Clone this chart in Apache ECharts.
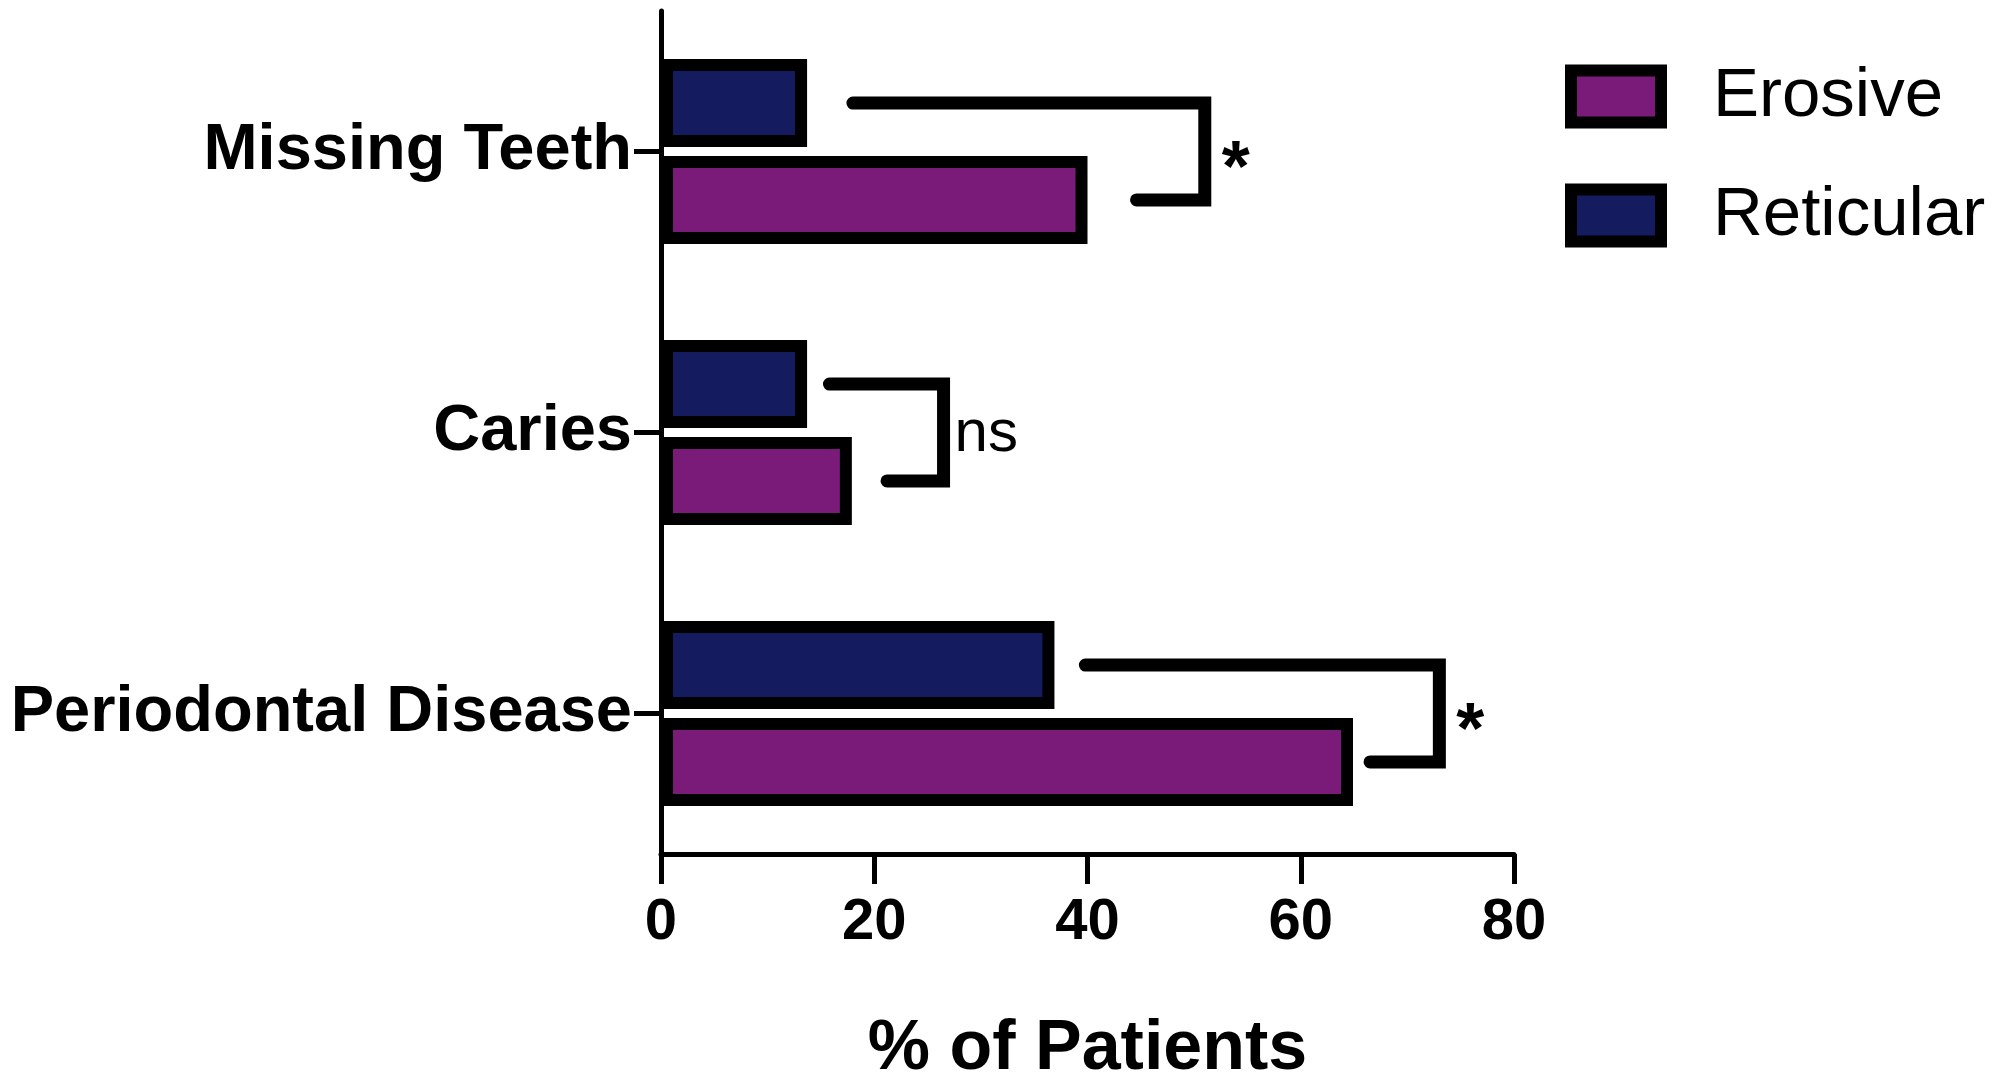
<!DOCTYPE html>
<html>
<head>
<meta charset="utf-8">
<script src="https://cdn.jsdelivr.net/npm/echarts@6/dist/echarts.min.js"></script>
<style>
html,body{margin:0;padding:0;background:#fff;}
#chart{width:1995px;height:1090px;}
</style>
</head>
<body>
<div id="chart"></div>
<script>
// ---- data ----
const categories = ['Missing Teeth', 'Caries', 'Periodontal Disease'];
const erosive = [40, 17.9, 64.9];
const reticular = [13.7, 13.7, 36.9];
const xTicks = [0, 20, 40, 60, 80];
// significance brackets: start of top arm, start of bottom arm, vertical bar position (in % units)
const bracketTopStart = [18, 15.8, 39.8];
const bracketBottomStart = [44.6, 21.2, 66.5];
const bracketVertical = [51, 26.5, 73];
const bracketLabels = ['*', 'ns', '*'];

// ---- style constants ----
const FONT = '"Liberation Sans", Arial, Helvetica, sans-serif';
const BAR_W = 88;
const BAR_GAP = 0.1;
const BAR_OFFSET = BAR_W * (1 + BAR_GAP) / 2;

const chart = echarts.init(document.getElementById('chart'), null, {renderer: 'canvas'});

const bracketData = categories.map((c, i) => [i, bracketTopStart[i], bracketBottomStart[i], bracketVertical[i]]);

function renderBracket(params, api) {
  const idx = api.value(0);
  const t = api.coord([api.value(1), idx]);
  const b = api.coord([api.value(2), idx]);
  const v = api.coord([api.value(3), idx]);
  const yTop = v[1] - BAR_OFFSET;
  const yBot = v[1] + BAR_OFFSET;
  const label = bracketLabels[params.dataIndex];
  const isStar = label === '*';
  return {
    type: 'group',
    children: [
      {
        type: 'polyline',
        shape: {points: [[t[0], yTop], [v[0], yTop], [v[0], yBot], [b[0], yBot]]},
        style: {stroke: '#000', lineWidth: 13, fill: null, lineCap: 'round', lineJoin: 'miter'}
      },
      {
        type: 'text',
        style: {
          text: label,
          x: v[0] + (isStar ? 17 : 11),
          y: v[1] + (isStar ? 20 : 2),
          fill: '#000',
          fontFamily: FONT,
          fontSize: isStar ? 72 : 60,
          fontWeight: isStar ? 'bold' : 'normal',
          align: 'left',
          verticalAlign: 'middle'
        }
      }
    ]
  };
}

const option = {
  animation: false,
  backgroundColor: '#fff',
  grid: {left: 661, top: 11, width: 853, height: 854, containLabel: false},
  legend: {
    data: ['Erosive', 'Reticular'],
    orient: 'vertical',
    left: 1560,
    top: 57,
    icon: 'rect',
    itemWidth: 90,
    itemHeight: 52,
    itemGap: 50,
    itemStyle: {borderColor: '#000', borderWidth: 12},
    textStyle: {fontSize: 69, color: '#000', fontFamily: FONT, lineHeight: 69, padding: [0, 0, 0, 47]}
  },
  xAxis: {
    type: 'value',
    min: 0,
    max: 80,
    interval: 20,
    name: '% of Patients',
    nameLocation: 'middle',
    nameGap: 161,
    nameTextStyle: {fontSize: 70, fontWeight: 'bold', color: '#000', fontFamily: FONT},
    axisLine: {show: true, lineStyle: {color: '#000', width: 5}},
    axisTick: {show: true, length: 30, lineStyle: {color: '#000', width: 5}},
    axisLabel: {
      fontSize: 58, fontWeight: 'bold', color: '#000', fontFamily: FONT, margin: 40,
      formatter: v => (xTicks.indexOf(v) >= 0 ? String(v) : '')
    },
    splitLine: {show: false}
  },
  yAxis: {
    type: 'category',
    inverse: true,
    data: categories,
    axisLine: {show: true, lineStyle: {color: '#000', width: 5}},
    axisTick: {show: true, alignWithLabel: true, length: 27, lineStyle: {color: '#000', width: 5}},
    axisLabel: {fontSize: 65, fontWeight: 'bold', color: '#000', fontFamily: FONT, margin: 29},
    splitLine: {show: false}
  },
  series: [
    {
      name: 'Reticular',
      type: 'bar',
      data: reticular,
      barWidth: BAR_W,
      barGap: (BAR_GAP * 100) + '%',
      itemStyle: {color: '#141B5F', borderColor: '#000', borderWidth: 12}
    },
    {
      name: 'Erosive',
      type: 'bar',
      data: erosive,
      barWidth: BAR_W,
      barGap: (BAR_GAP * 100) + '%',
      itemStyle: {color: '#7B1B79', borderColor: '#000', borderWidth: 12}
    },
    {
      name: 'brackets',
      type: 'custom',
      coordinateSystem: 'cartesian2d',
      renderItem: renderBracket,
      encode: {x: [1, 2, 3], y: 0},
      data: bracketData,
      silent: true,
      z: 5
    }
  ]
};

chart.setOption(option);
</script>
</body>
</html>
